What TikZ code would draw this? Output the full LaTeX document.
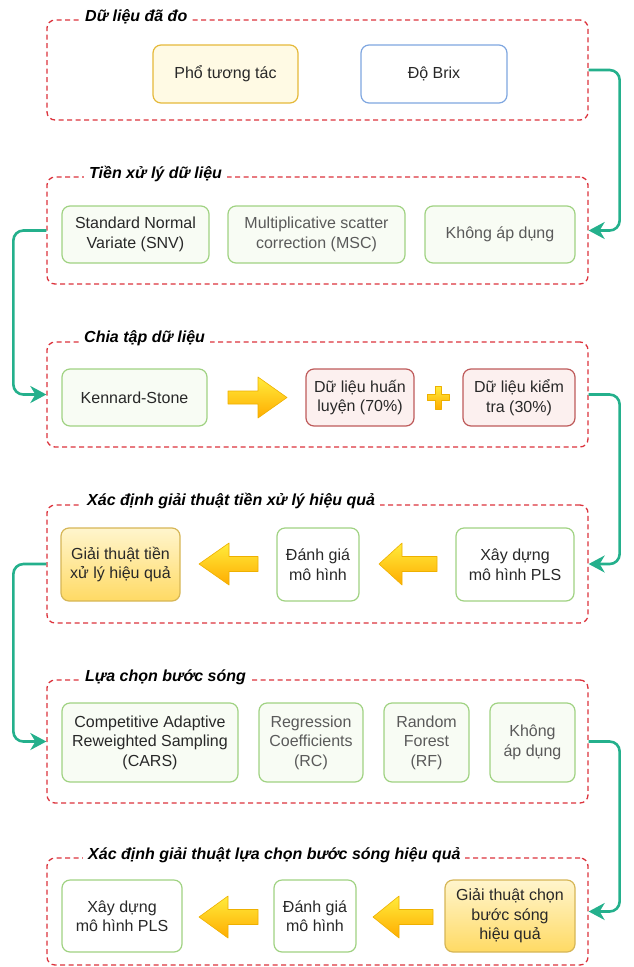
\documentclass[tikz,border=0pt]{standalone}
\usepackage{fontspec}
\setmainfont{Liberation Sans}
\usetikzlibrary{arrows.meta,shadings}
\definecolor{grpred}{RGB}{220,50,60}
\definecolor{teal2}{RGB}{36,176,140}
\definecolor{txtdark}{RGB}{40,40,40}
\definecolor{txtgray}{RGB}{90,90,90}
\definecolor{grnline}{RGB}{160,210,130}
\definecolor{grnfill}{RGB}{248,252,244}
\definecolor{yelline}{RGB}{229,185,58}
\definecolor{yelfill}{RGB}{255,250,228}
\definecolor{bluline}{RGB}{126,166,224}
\definecolor{redline}{RGB}{190,90,90}
\definecolor{redfill}{RGB}{252,240,239}
\definecolor{goldline}{RGB}{214,182,86}
\definecolor{goldtop}{RGB}{255,245,205}
\definecolor{goldbot}{RGB}{255,218,100}
\definecolor{arrtop}{RGB}{255,236,60}
\definecolor{arrbot}{RGB}{255,172,0}
\definecolor{arrline}{RGB}{238,176,0}
\newcommand\bodyfont{\fontsize{16}{19.5}\selectfont}
\tikzset{
  grp/.style={draw=grpred, dashed, dash pattern=on 5pt off 3.5pt, line width=1.3pt, rounded corners=8pt, minimum width=541pt},
  grptitle/.style={anchor=west, fill=white, inner xsep=5pt, inner ysep=3pt, font=\fontsize{16}{19.5}\selectfont\bfseries\itshape, text=black},
  box/.style={draw, rounded corners=8pt, line width=1.2pt, align=center, font=\bodyfont, inner sep=0pt, text=txtdark},
  grnbox/.style={box, draw=grnline, fill=grnfill},
  whbox/.style={box, draw=grnline, fill=white},
  yelbox/.style={box, draw=yelline, fill=yelfill},
  blubox/.style={box, draw=bluline, fill=white},
  redbox/.style={box, draw=redline, fill=redfill},
  goldbox/.style={box, draw=goldline, top color=goldtop, bottom color=goldbot},
  conn/.style={draw=teal2, line width=2.6pt, rounded corners=10pt, -{Stealth[length=16pt,width=17pt,inset=5pt]}},
  blk/.style={top color=arrtop, bottom color=arrbot, draw=arrline, line width=0.6pt, line join=round},
}
% left arrow: tip x, head base x, end x, centre y
\newcommand\leftarr[4]{\path[blk] (#1,#4) -- (#2,#4-21) -- (#2,#4-7.5) -- (#3,#4-7.5) -- (#3,#4+7.5) -- (#2,#4+7.5) -- (#2,#4+21) -- cycle;}
\begin{document}
\begin{tikzpicture}[x=1pt,y=-1pt]
\useasboundingbox (0,0) rectangle (633,967);
% groups
\node[grp, minimum height=100pt] (g1) at (317.5,70) {};
\node[grp, minimum height=107pt] (g2) at (317.5,230.5) {};
\node[grp, minimum height=105pt] (g3) at (317.5,394.5) {};
\node[grp, minimum height=118pt] (g4) at (317.5,564) {};
\node[grp, minimum height=123pt] (g5) at (317.5,741.5) {};
\node[grp, minimum height=107pt] (g6) at (317.5,911.5) {};
\node[grptitle] (t1) at (80,17) {Dữ liệu đã đo};
\node[grptitle] (t2) at (84,174) {Tiền xử lý dữ liệu};
\node[grptitle] (t3) at (79,338) {Chia tập dữ liệu};
\node[grptitle] (t4) at (82,501) {Xác định giải thuật tiền xử lý hiệu quả};
\node[grptitle] (t5) at (80,677) {Lựa chọn bước sóng};
\node[grptitle] (t6) at (83,855) {Xác định giải thuật lựa chọn bước sóng hiệu quả};
% group 1
\node[yelbox, minimum width=145pt, minimum height=58pt] (pho) at (225.5,74) {Phổ tương tác};
\node[blubox, minimum width=146pt, minimum height=58pt] (brix) at (434,74) {Độ Brix};
% group 2
\node[grnbox, minimum width=147pt, minimum height=57pt] (snv) at (135.5,234.5) {Standard Normal\\Variate (SNV)};
\node[grnbox, minimum width=177pt, minimum height=57pt, text=txtgray] (msc) at (316.5,234.5) {Multiplicative scatter\\correction (MSC)};
\node[grnbox, minimum width=150pt, minimum height=57pt, text=txtgray] (kad1) at (500,234.5) {Không áp dụng};
% group 3
\node[grnbox, minimum width=145pt, minimum height=57pt] (ks) at (134.5,397.5) {Kennard-Stone};
\node[redbox, minimum width=108pt, minimum height=57pt] (train) at (360,397.5) {Dữ liệu huấn\\luyện (70\%)};
\node[redbox, minimum width=112pt, minimum height=57pt] (test) at (519,397.5) {Dữ liệu kiểm\\tra (30\%)};
\path[blk] (228,391) -- (258,391) -- (258,377) -- (287,397.5) -- (258,418) -- (258,404) -- (228,404) -- cycle;
\path[blk] (435,386) -- (441,386) -- (441,394.5) -- (449,394.5) -- (449,400.5) -- (441,400.5) -- (441,409) -- (435,409) -- (435,400.5) -- (427,400.5) -- (427,394.5) -- (435,394.5) -- cycle;
% group 4
\node[goldbox, minimum width=119pt, minimum height=73pt] (best1) at (120.5,564.5) {Giải thuật tiền\\xử lý hiệu quả};
\node[whbox, minimum width=82pt, minimum height=73pt] (eval1) at (318,564.5) {Đánh giá\\mô hình};
\node[whbox, minimum width=118pt, minimum height=73pt] (pls1) at (515,564.5) {Xây dựng\\mô hình PLS};
\leftarr{199}{229}{258}{564}
\leftarr{379}{402}{437}{564}
% group 5
\node[grnbox, minimum width=176pt, minimum height=79pt] (cars) at (150,742.5) {Competitive Adaptive\\Reweighted Sampling\\(CARS)};
\node[grnbox, minimum width=104pt, minimum height=79pt, text=txtgray] (rc) at (311,742.5) {Regression\\Coefficients\\(RC)};
\node[grnbox, minimum width=85pt, minimum height=79pt, text=txtgray] (rf) at (426.5,742.5) {Random\\Forest\\(RF)};
\node[grnbox, minimum width=85pt, minimum height=79pt, text=txtgray] (kad2) at (532.5,742.5) {Không\\áp dụng};
% group 6
\node[whbox, minimum width=120pt, minimum height=72pt] (pls2) at (122,916) {Xây dựng\\mô hình PLS};
\node[whbox, minimum width=82pt, minimum height=72pt] (eval2) at (315,916) {Đánh giá\\mô hình};
\node[goldbox, minimum width=130pt, minimum height=72pt] (best2) at (510,916) {Giải thuật chọn\\bước sóng\\hiệu quả};
\leftarr{199}{228}{258}{917}
\leftarr{373}{399}{433}{917}
% connectors
\draw[conn] (g1.east) -- ++(31,0) |- (g2.east);
\draw[conn] (g2.west) -- ++(-33,0) |- (g3.west);
\draw[conn] (g3.east) -- ++(31,0) |- (g4.east);
\draw[conn] (g4.west) -- ++(-33,0) |- (g5.west);
\draw[conn] (g5.east) -- ++(31,0) |- (g6.east);
\end{tikzpicture}
\end{document}
